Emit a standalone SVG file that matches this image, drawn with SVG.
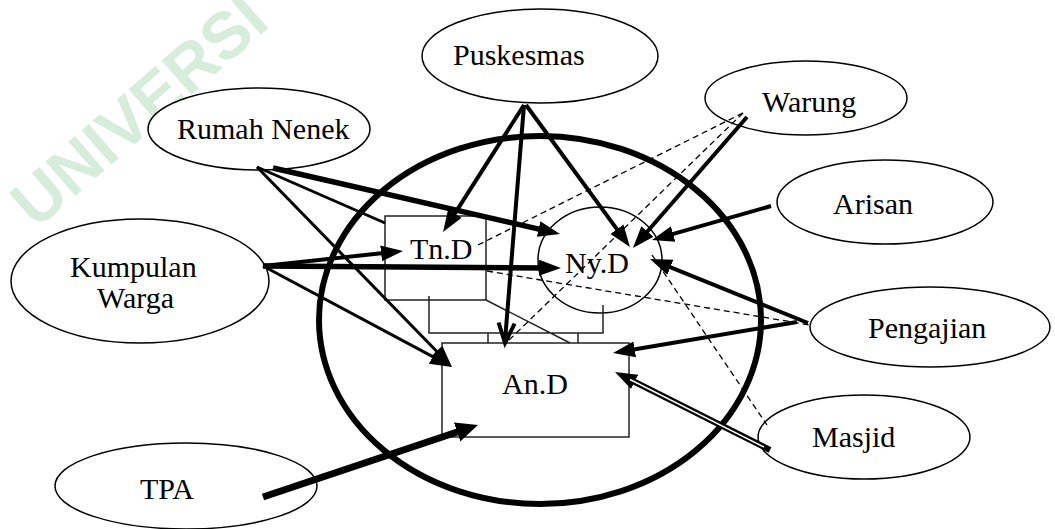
<svg xmlns="http://www.w3.org/2000/svg" width="1055" height="529" viewBox="0 0 1055 529">
  <style>
    .lbl { font-family: "Liberation Serif", "Times New Roman", serif; font-size: 30px; fill: #000; }
    .node { fill: #fff; stroke: #000; stroke-width: 1.5; }
    .box { fill: #fff; stroke: #222; stroke-width: 1.5; }
    .thin { fill: none; stroke: #222; stroke-width: 1.5; }
    .dash { fill: none; stroke: #000; stroke-width: 1.3; stroke-dasharray: 6 4; }
    .arr { fill: none; stroke: #000; stroke-linecap: butt; }
    .wm { font-family: "Liberation Sans", Arial, sans-serif; font-weight: bold; font-size: 66px; fill: #d6eddb; }
  </style>
  <defs>
    <marker id="head" markerUnits="userSpaceOnUse" markerWidth="24" markerHeight="18" viewBox="0 -9 24 18" refX="7" refY="0" orient="auto">
      <path d="M0,-8 L22,0 L0,8 z" fill="#000"/>
    </marker>
    <marker id="headBig" markerUnits="userSpaceOnUse" markerWidth="26" markerHeight="22" viewBox="0 -11 26 22" refX="8" refY="0" orient="auto">
      <path d="M0,-10 L22,0 L0,10 z" fill="#000"/>
    </marker>
  </defs>

  <rect width="1055" height="529" fill="#fff"/>

  <!-- watermark -->
  <text class="wm" transform="translate(36,230) rotate(-41)">UNIVERSI</text>

  <!-- household boundary -->
  <ellipse id="household" cx="540" cy="320" rx="221" ry="184" fill="none" stroke="#000" stroke-width="6"/>

  <!-- outer places -->
  <g id="puskesmas">
    <ellipse class="node" cx="540" cy="56" rx="118" ry="47"/>
    <text class="lbl" x="453" y="65">Puskesmas</text>
  </g>
  <g id="warung">
    <ellipse class="node" cx="806" cy="98" rx="101" ry="37"/>
    <text class="lbl" x="762" y="112">Warung</text>
  </g>
  <g id="rumah-nenek">
    <ellipse class="node" cx="259" cy="129" rx="111" ry="41"/>
    <text class="lbl" x="177" y="139">Rumah Nenek</text>
  </g>
  <g id="arisan">
    <ellipse class="node" cx="885" cy="202" rx="108" ry="42"/>
    <text class="lbl" x="833" y="214">Arisan</text>
  </g>
  <g id="kumpulan-warga">
    <ellipse class="node" cx="140" cy="281" rx="129" ry="62"/>
    <text class="lbl" x="70" y="277">Kumpulan</text>
    <text class="lbl" x="97" y="308">Warga</text>
  </g>
  <g id="pengajian">
    <ellipse class="node" cx="930" cy="327" rx="120" ry="40"/>
    <text class="lbl" x="868" y="338">Pengajian</text>
  </g>
  <g id="masjid">
    <ellipse class="node" cx="864" cy="437" rx="106" ry="42"/>
    <text class="lbl" x="812" y="447">Masjid</text>
  </g>
  <g id="tpa">
    <ellipse class="node" cx="186" cy="486" rx="131" ry="43"/>
    <text class="lbl" x="140" y="499">TPA</text>
  </g>

  <!-- family members -->
  <g id="tn-d">
    <rect class="box" x="385" y="216" width="101" height="84"/>
    <text class="lbl" x="410" y="259">Tn.D</text>
  </g>
  <g id="ny-d">
    <ellipse class="node" cx="600" cy="260" rx="62" ry="53"/>
    <text class="lbl" x="565" y="273">Ny.D</text>
  </g>
  <g id="an-d">
    <rect class="box" x="442" y="343" width="187" height="94"/>
    <text class="lbl" x="502" y="394">An.D</text>
  </g>

  <g id="connectors">
    <!-- family ties -->
    <path class="thin" d="M429,296 V333 H603 V305 M488,333 V343 M578,333 V343 M486,300 L570,343"/>

    <!-- weak ties -->
    <path class="dash" d="M478,245 L743,113"/>
    <path class="dash" d="M743,113 L506,343"/>
    <path class="dash" d="M487,271 L810,325"/>
    <path class="dash" d="M652,255 L767,425"/>

    <!-- Rumah Nenek -->
    <line class="arr" x1="257" y1="167" x2="385" y2="223" stroke-width="3"/>
    <line class="arr" x1="273" y1="168" x2="545.4" y2="230.6" stroke-width="5.5" marker-end="url(#head)"/>
    <line class="arr" x1="257" y1="167" x2="441.5" y2="356.3" stroke-width="3" marker-end="url(#head)"/>

    <!-- Kumpulan Warga -->
    <line class="arr" x1="263" y1="266" x2="388.1" y2="252.6" stroke-width="4" marker-end="url(#head)"/>
    <line class="arr" x1="263" y1="266" x2="546" y2="267.9" stroke-width="5.5" marker-end="url(#head)"/>
    <line class="arr" x1="263" y1="266" x2="438.8" y2="359.9" stroke-width="3" marker-end="url(#head)"/>

    <!-- Puskesmas -->
    <line class="arr" x1="524" y1="105" x2="451.1" y2="219.4" stroke-width="4" marker-end="url(#head)"/>
    <line class="arr" x1="524" y1="105" x2="505" y2="341" stroke-width="4"/>
    <path d="M498.6,322.5 L505,343 L514.6,323.7" fill="none" stroke="#000" stroke-width="4"/>
    <line class="arr" x1="526" y1="105" x2="621.1" y2="234.9" stroke-width="4" marker-end="url(#head)"/>

    <!-- Warung, Arisan -->
    <line class="arr" x1="747" y1="117" x2="642.8" y2="236.7" stroke-width="4" marker-end="url(#head)"/>
    <line class="arr" x1="771" y1="206" x2="666.4" y2="235.9" stroke-width="4" marker-end="url(#head)"/>

    <!-- Pengajian -->
    <line class="arr" x1="808" y1="323" x2="663.9" y2="264.6" stroke-width="4" marker-end="url(#head)"/>
    <line class="arr" x1="797" y1="322" x2="627.8" y2="350.5" stroke-width="4" marker-end="url(#head)"/>

    <!-- Masjid (double line) -->
    <line class="arr" x1="770" y1="450" x2="628.4" y2="378.7" stroke-width="6" marker-end="url(#head)"/>
    <line x1="764" y1="447" x2="630" y2="379.5" stroke="#fff" stroke-width="1.4"/>

    <!-- TPA -->
    <line class="arr" x1="263" y1="497" x2="464.7" y2="429.5" stroke-width="7" marker-end="url(#headBig)"/>
  </g>
</svg>
